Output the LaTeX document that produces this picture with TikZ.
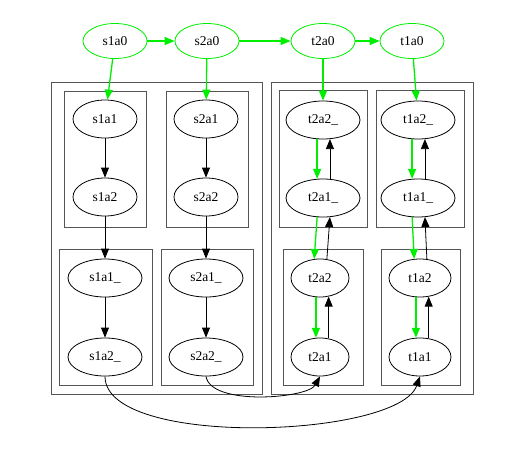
\documentclass[tikz,border=0pt]{standalone}
\usepackage{fontspec}
\setmainfont{Liberation Serif}
\usetikzlibrary{shapes.geometric, arrows.meta, positioning}
\definecolor{flowgreen}{HTML}{00EE00}
\definecolor{clustergray}{HTML}{555555}

\begin{document}
\begin{tikzpicture}[
  x=1pt, y=-1pt,
  state/.style={
    ellipse, draw=black, line width=0.8pt,
    minimum width=64, minimum height=38, inner sep=0pt,
    font=\fontsize{13.5}{16}\selectfont
  },
  wide/.style={state, minimum width=74},
  narrow/.style={state, minimum width=58},
  top/.style={state, draw=flowgreen, minimum height=35},
  cluster/.style={draw=clustergray, line width=0.75pt},
  flow/.style={flowgreen, line width=1.3pt, -{Triangle[length=10pt, width=8pt]}},
  back/.style={black, line width=0.8pt, -{Triangle[length=10pt, width=8pt]}}
]
  \useasboundingbox (0,0) rectangle (531,453);

  % Outer clusters
  \draw[cluster] (51,82) rectangle (262,394);
  \draw[cluster] (271,82) rectangle (473,394);

  % Inner clusters
  \draw[cluster] (64,91) rectangle (146,227);
  \draw[cluster] (166,91) rectangle (248,227);
  \draw[cluster] (59,249) rectangle (152,385);
  \draw[cluster] (161,249) rectangle (253,385);
  \draw[cluster] (279,90) rectangle (367,227);
  \draw[cluster] (376,90) rectangle (464,227);
  \draw[cluster] (283,249) rectangle (363,385);
  \draw[cluster] (381,249) rectangle (460,385);

  % Top row
  \node[top] (s1a0) at (115,41) {s1a0};
  \node[top] (s2a0) at (207,41) {s2a0};
  \node[top] (t2a0) at (323,41) {t2a0};
  \node[top] (t1a0) at (412,41) {t1a0};

  % Source side
  \node[state] (s1a1) at (105,119) {s1a1};
  \node[state] (s1a2) at (105,197) {s1a2};
  \node[wide] (s1a1_) at (105,278) {s1a1\_};
  \node[wide] (s1a2_) at (105,357) {s1a2\_};
  \node[state] (s2a1) at (206,119) {s2a1};
  \node[state] (s2a2) at (206,197) {s2a2};
  \node[wide] (s2a1_) at (206,278) {s2a1\_};
  \node[wide] (s2a2_) at (206,357) {s2a2\_};

  % Target side
  \node[wide] (t2a2_) at (323,120) {t2a2\_};
  \node[wide] (t2a1_) at (323,198) {t2a1\_};
  \node[narrow] (t2a2) at (320,278) {t2a2};
  \node[narrow] (t2a1) at (320,357) {t2a1};
  \node[wide] (t1a2_) at (418,120) {t1a2\_};
  \node[wide] (t1a1_) at (418,198) {t1a1\_};
  \node[state, minimum width=62] (t1a2) at (420,278) {t1a2};
  \node[state, minimum width=62] (t1a1) at (420,357) {t1a1};

  % Green flow along the top
  \draw[flow] (s1a0) -- (s2a0);
  \draw[flow] (s2a0) -- (t2a0);
  \draw[flow] (t2a0) -- (t1a0);
  \draw[flow] (s1a0) -- (s1a1);
  \draw[flow] (s2a0) -- (s2a1);
  \draw[flow] (t2a0) -- (t2a2_);
  \draw[flow] (t1a0) -- (t1a2_);

  % Source chains
  \foreach \s in {s1, s2} {
    \draw[back] (\s a1) -- (\s a2);
    \draw[back] (\s a2) -- (\s a1_);
    \draw[back] (\s a1_) -- (\s a2_);
  }

  % Target chains, both ways
  \foreach \t in {t2, t1} {
    \draw[flow] (\t a2_.-107) -- (\t a1_.107);
    \draw[back] (\t a1_.70) -- (\t a2_.-70);
    \draw[flow] (\t a1_.-107) -- (\t a2.107);
    \draw[back] (\t a2.70) -- (\t a1_.-70);
    \draw[flow] (\t a2.-102) -- (\t a1.102);
    \draw[back] (\t a1.65) -- (\t a2.-65);
  }

  % Crossing arcs
  \draw[back] (s2a2_.south) .. controls +(5,30) and +(-12,22) .. (t2a1.south);
  \draw[back] (s1a2_.south) .. controls +(0,72) and +(-22,62) .. (t1a1.south);
\end{tikzpicture}
\end{document}
